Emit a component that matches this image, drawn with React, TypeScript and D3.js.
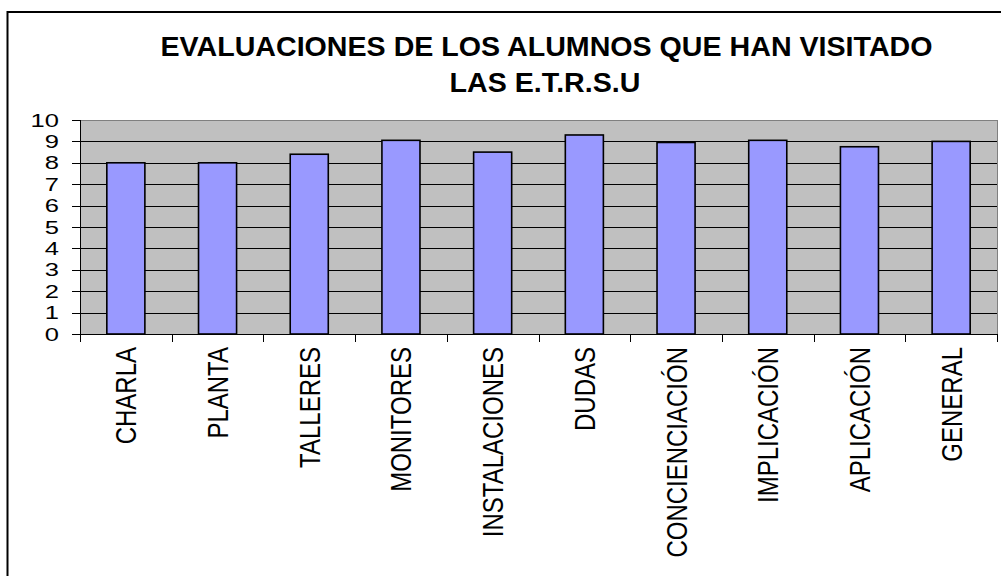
import React, { useMemo } from 'react';
import { scaleBand, scaleLinear, range } from 'd3';

const W = 1001;
const H = 576;

const titleLines = ['EVALUACIONES DE LOS ALUMNOS QUE HAN VISITADO', 'LAS E.T.R.S.U'];

const categories = [
  'CHARLA',
  'PLANTA',
  'TALLERES',
  'MONITORES',
  'INSTALACIONES',
  'DUDAS',
  'CONCIENCIACIÓN',
  'IMPLICACIÓN',
  'APLICACIÓN',
  'GENERAL',
];

const scores = [8.0, 8.0, 8.4, 9.05, 8.5, 9.3, 8.95, 9.05, 8.75, 9.0];

const yTicks = [0, 1, 2, 3, 4, 5, 6, 7, 8, 9, 10];

const FONT = 'Arial, "Liberation Sans", sans-serif';

// plot area, in page pixels
const plot = { left: 80, right: 997, top: 120, bottom: 334 };

export default function App() {
  const data = useMemo(() => categories.map((c, i) => ({ key: c, value: scores[i] })), []);

  const x = useMemo(
    () => scaleBand<string>().domain(categories).range([plot.left, plot.right]).padding(0),
    [],
  );
  const y = useMemo(() => scaleLinear().domain([0, 10]).range([plot.bottom, plot.top]), []);

  const step = x.step();
  const barW = step * 0.415;

  return (
    <div style={{ position: 'fixed', left: 0, top: 0, width: W, height: H, background: '#fff' }}>
      <svg width={W} height={H} viewBox={`0 0 ${W} ${H}`} style={{ display: 'block' }}>
        {/* chart border */}
        <rect x={7.5} y={12} width={W + 20} height={H + 20} fill="#fff" stroke="#000" strokeWidth={2} />

        {/* title */}
        <g fontFamily={FONT} fontWeight="bold" fontSize={27} fill="#000" textAnchor="middle">
          <text transform="translate(546.5, 56) scale(1.06, 1)">{titleLines[0]}</text>
          <text transform="translate(545, 92) scale(1.06, 1)">{titleLines[1]}</text>
        </g>

        {/* plot background */}
        <rect
          x={plot.left}
          y={plot.top}
          width={plot.right - plot.left}
          height={plot.bottom - plot.top}
          fill="#C0C0C0"
          stroke="#808080"
          strokeWidth={1}
          shapeRendering="crispEdges"
        />

        {/* gridlines */}
        <g stroke="#000" strokeWidth={1} shapeRendering="crispEdges">
          {yTicks
            .filter((t) => t > 0 && t < 10)
            .map((t) => (
              <line key={`g-${t}`} x1={plot.left} x2={plot.right} y1={Math.round(y(t)) + 0.5} y2={Math.round(y(t)) + 0.5} />
            ))}
        </g>

        {/* bars */}
        <g fill="#9999FF" stroke="#000" strokeWidth={1.6}>
          {data.map((d) => (
            <rect
              key={d.key}
              x={(x(d.key) ?? 0) + (step - barW) / 2}
              y={y(d.value)}
              width={barW}
              height={y(0) - y(d.value)}
            />
          ))}
        </g>

        {/* axes */}
        <g stroke="#000" strokeWidth={1} shapeRendering="crispEdges">
          <line x1={plot.left + 0.5} x2={plot.left + 0.5} y1={plot.top} y2={plot.bottom} />
          <line x1={plot.left} x2={plot.right} y1={plot.bottom + 0.5} y2={plot.bottom + 0.5} />
          {yTicks.map((t) => (
            <line key={`yt-${t}`} x1={plot.left - 8} x2={plot.left} y1={Math.round(y(t)) + 0.5} y2={Math.round(y(t)) + 0.5} />
          ))}
          {range(categories.length + 1).map((i) => {
            const xx = Math.round(plot.left + i * step) + 0.5;
            return <line key={`xt-${i}`} x1={xx} x2={xx} y1={plot.bottom} y2={plot.bottom + 8} />;
          })}
        </g>

        {/* y tick labels */}
        <g fontFamily={FONT} fontSize={18} fill="#000" textAnchor="end">
          {yTicks.map((t) => (
            <text key={`yl-${t}`} transform={`translate(59, ${y(t) + 6.5}) scale(1.42, 1)`}>
              {t}
            </text>
          ))}
        </g>

        {/* category labels */}
        <g fontFamily={FONT} fontSize={24} fill="#000" textAnchor="end">
          {data.map((d) => {
            const cx = (x(d.key) ?? 0) + step / 2;
            return (
              <text key={`xl-${d.key}`} transform={`translate(${cx + 10.5}, 347) rotate(-90) scale(1, 1.23)`}>
                {d.key}
              </text>
            );
          })}
        </g>
      </svg>
    </div>
  );
}
